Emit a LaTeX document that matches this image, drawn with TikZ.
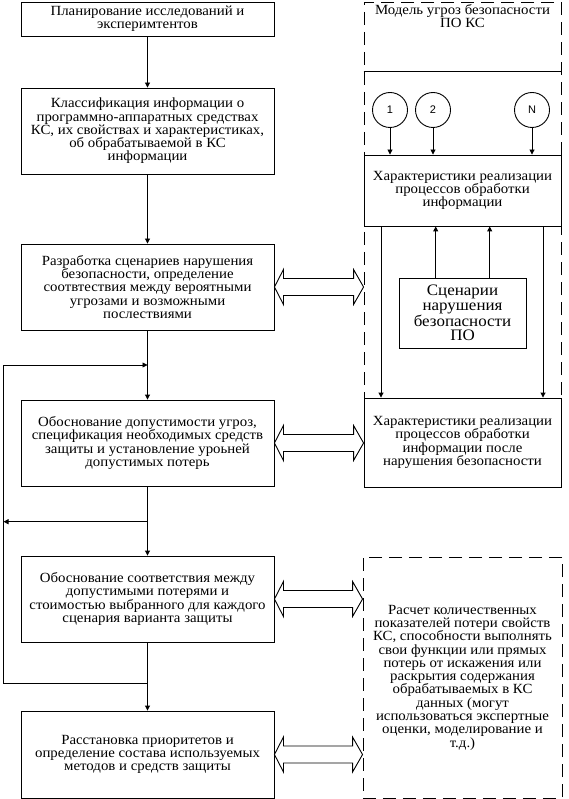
\documentclass[tikz,border=0pt]{standalone}
\usepackage{fontspec}
\setmainfont[FakeStretch=1.06]{Liberation Serif}
\newfontfamily\sansf{Liberation Sans}
\usetikzlibrary{arrows.meta,calc}
\newcommand\dblarrow[2]{%
  \draw[blockarr] ($#1$) -- ++(9,-17.5) -- ++(0,9) -- ($#2+(-10,-8.5)$) -- ++(0,-9)
    -- ($#2$) -- ++(-10,17.5) -- ++(0,-9) -- ($#1+(9,8.5)$) -- ++(0,9) -- cycle;}
\begin{document}
\begin{tikzpicture}[x=1pt,y=-1pt,line width=0.9pt,
  txt/.style={font=\fontsize{14}{13.3}\selectfont},
  lbox/.style={draw,minimum width=253pt,minimum height=86pt,align=center,inner sep=0pt,txt},
  rbox/.style={draw,minimum width=197pt,align=center,inner sep=0pt,txt},
  dbox/.style={draw,dash pattern=on 13pt off 7pt},
  circ/.style={draw,circle,minimum size=35pt,inner sep=0pt,font=\sansf\fontsize{11}{11}\selectfont},
  arr/.style={-{Triangle[length=5pt,width=5pt]}},
  blockarr/.style={line join=miter}]
\useasboundingbox (0,0) rectangle (568,799);
\fill[white] (0,0) rectangle (568,799);
% left column
\node[lbox,minimum height=34pt] (b1) at (147.5,19) {Планирование исследований и\\ эксперимтентов};
\node[lbox] (b2) at (147.5,131) {Классификация информации о\\ программно-аппаратных средствах\\ КС, их свойствах и характеристиках,\\ об обрабатываемой в КС\\ информации};
\node[lbox] (b3) at (147.5,287) {Разработка сценариев нарушения\\ безопасности, определение\\ соотвтествия между вероятными\\ угрозами и возможными\\ послествиями};
\node[lbox] (b4) at (147.5,443) {Обоснование допустимости угроз,\\ спецификация необходимых средств\\ защиты и установление уроьней\\ допустимых потерь};
\node[lbox] (b5) at (147.5,599) {Обоснование соответствия между\\ допустимыми потерями и\\ стоимостью выбранного для каждого\\ сценария варианта защиты};
\node[lbox,minimum height=87pt] (b6) at (147.5,754.5) {Расстановка приоритетов и\\ определение состава используемых\\ методов и средств защиты};
\draw[arr] (b1) -- (b2);
\draw[arr] (b2) -- (b3);
\draw[arr] (b3) -- (b4);
\draw[arr] (b4) -- (b5);
\draw[arr] (b5) -- (b6);
% feedback
\coordinate (fbtop) at (3.5,365);
\coordinate (fbmid) at (3.5,521.7);
\coordinate (fbbot) at (3.5,683);
\draw[arr] (b5.south |- fbbot) -- (fbbot) -- (fbtop) -- (fbtop -| b3.south);
\draw[arr] (b4.south |- fbmid) -- (fbmid);
% right: threat model
\node[dbox,minimum width=197pt,minimum height=396pt,inner sep=0pt] (model) at (462.5,200) {};
\node[txt,align=center] (title) at (462.5,16) {Модель угроз безопасности\\ ПО КС};
\draw (model.west |- 0,71) -- (model.east |- 0,71);
\node[rbox,minimum height=71pt] (ch1) at (462.5,190.5) {Характеристики реализации\\ процессов обработки\\ информации};
\node[circ] (c1) at (390,110) {1};
\node[circ] (c2) at (433,110) {2};
\node[circ] (cN) at (532,110) {N};
\draw[arr] (c1) -- (c1 |- ch1.north);
\draw[arr] (c2) -- (c2 |- ch1.north);
\draw[arr] (cN) -- (cN |- ch1.north);
\node[draw,minimum width=127pt,minimum height=70pt,align=center,inner sep=0pt,font=\fontsize{16}{14.5}\selectfont] (sc) at (462.5,313) {Сценарии\\ нарушения\\ безопасности\\ ПО};
\node[rbox,minimum height=89pt] (ch2) at (462.5,442.5) {Характеристики реализации\\ процессов обработки\\ информации после\\ нарушения безопасности};
\draw[arr] (ch1.south -| 381,0) -- (ch2.north -| 381,0);
\draw[arr] (ch1.south -| 543,0) -- (ch2.north -| 543,0);
\draw[arr] (sc.north -| 435.7,0) -- (ch1.south -| 435.7,0);
\draw[arr] (sc.north -| 489.7,0) -- (ch1.south -| 489.7,0);
% calculation
\node[dbox,minimum width=199pt,minimum height=241pt,inner sep=0pt,align=center,txt] (calc) at (462.5,677.5) {Расчет количественных\\ показателей потери свойств\\ КС, способности выполнять\\ свои функции или прямых\\ потерь от искажения или\\ раскрытия содержания\\ обрабатываемых в КС\\ данных (могут\\ использоваться экспертные\\ оценки, моделирование и\\ т.д.)};
% block double arrows
\dblarrow{(b3.east)}{(b3.east -| model.west)}
\dblarrow{(b4.east)}{(b4.east -| ch2.west)}
\dblarrow{(b5.east)}{(b5.east -| calc.west)}
\dblarrow{(b6.east)}{(b6.east -| calc.west)}
\end{tikzpicture}
\end{document}
